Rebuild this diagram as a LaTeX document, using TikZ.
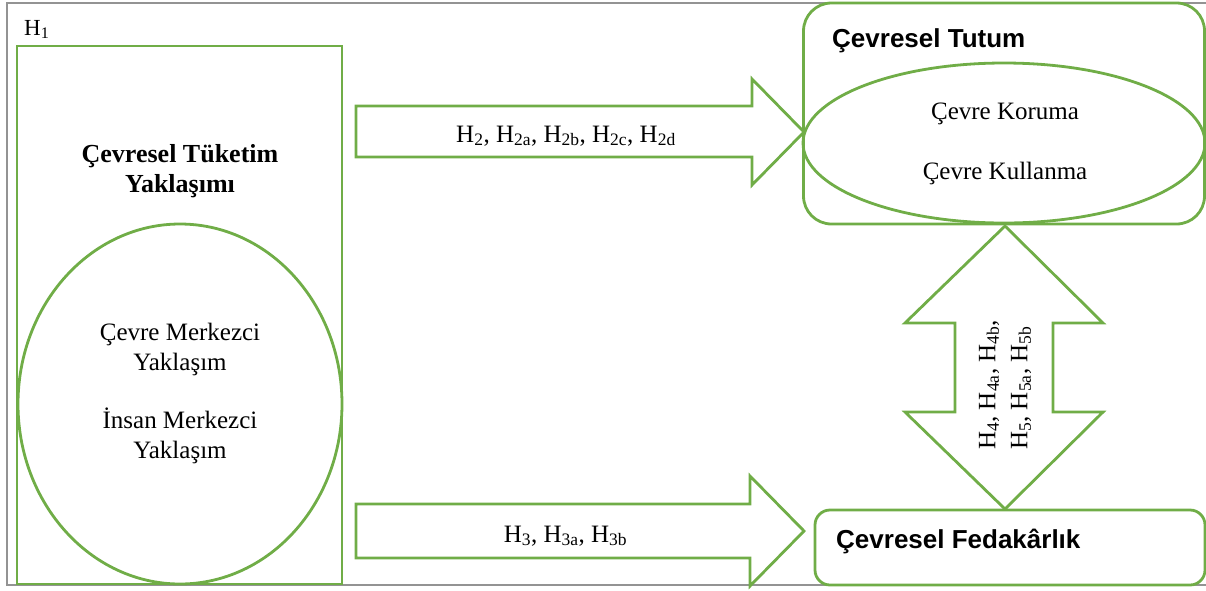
\documentclass[tikz,border=0pt]{standalone}
\usepackage{fontspec}
\setmainfont{Liberation Serif}
\newfontfamily\arialfont{Liberation Sans}
\usetikzlibrary{shapes.geometric}
\definecolor{ogreen}{RGB}{112,173,71}
\newcommand{\Hx}[1]{H\textsubscript{#1}}

\begin{document}
\begin{tikzpicture}[x=1pt, y=-1pt,
		green_style/.style={draw=ogreen, line width=2.8pt, inner sep=0pt},
		frame_style/.style={draw=gray!85, line width=1.2pt},
		text_style/.style={font=\fontsize{25}{30}\selectfont, align=center, inner sep=0pt},
		head_style/.style={font=\arialfont\bfseries\fontsize{26}{30}\selectfont, inner sep=0pt}]
	\useasboundingbox (0,0) rectangle (1206,590);
	\draw[frame_style] (1206,3) -- (7,3) -- (7,585) -- (1206,585);
	
	% left block
	\node[green_style, rectangle, minimum width=325pt, minimum height=538pt] (tuketim) at (179.5,315) {};
	\node[green_style, ellipse, minimum width=324pt, minimum height=360pt] (merkez) at (180,404) {};
	\node[text_style, font=\bfseries\fontsize{26}{30}\selectfont] (tuketim_title) at (180,171) {Çevresel Tüketim\\Yaklaşımı};
	\node[text_style] (merkez_text) at (180,393) {Çevre Merkezci\\Yaklaşım\\[28pt]İnsan Merkezci\\Yaklaşım};
	\node[text_style, font=\fontsize{23}{25}\selectfont, anchor=base west] (h_one) at (24,35) {\Hx{1}};
	
	% right blocks
	\node[green_style, rounded corners=28pt, minimum width=401pt, minimum height=221pt] (tutum) at (1004,113.5) {};
	\node[green_style, ellipse, minimum width=402pt, minimum height=160pt] (koruma) at (1004,143) {};
	\node[head_style, anchor=base west] (tutum_title) at (832,47) {Çevresel Tutum};
	\node[text_style] (koruma_text) at (1005,144) {Çevre Koruma\\[30pt]Çevre Kullanma};
	\node[green_style, rounded corners=15pt, minimum width=390pt, minimum height=75pt] (fedakarlik) at (1010,547.5) {};
	\node[head_style, anchor=base west] (fedakarlik_title) at (836,548) {Çevresel Fedakârlık};
	
	% block arrows
	\draw[green_style] (356,106) -- (752,106) -- (752,79) -- (804,132) -- (752,185) -- (752,157) -- (356,157) -- cycle;
	\draw[green_style] (356,504) -- (750,504) -- (750,476) -- (804,531) -- (750,586) -- (750,558) -- (356,558) -- cycle;
	\draw[green_style] (1005,226) -- (1103,323) -- (1053,323) -- (1053,412) -- (1103,412) -- (1005,509)
		-- (905,412) -- (955,412) -- (955,323) -- (905,323) -- cycle;
	
	\node[text_style, anchor=base] (h_two) at (566,142) {\Hx{2}, \Hx{2a}, \Hx{2b}, \Hx{2c}, \Hx{2d}};
	\node[text_style, anchor=base] (h_three) at (565.5,542) {\Hx{3}, \Hx{3a}, \Hx{3b}};
	\node[text_style, font=\fontsize{25}{32}\selectfont, align=left, rotate=90] (h_four) at (1005,385) {\Hx{4}, \Hx{4a}, \Hx{4b},\\\Hx{5}, \Hx{5a}, \Hx{5b}};
\end{tikzpicture}
\end{document}
